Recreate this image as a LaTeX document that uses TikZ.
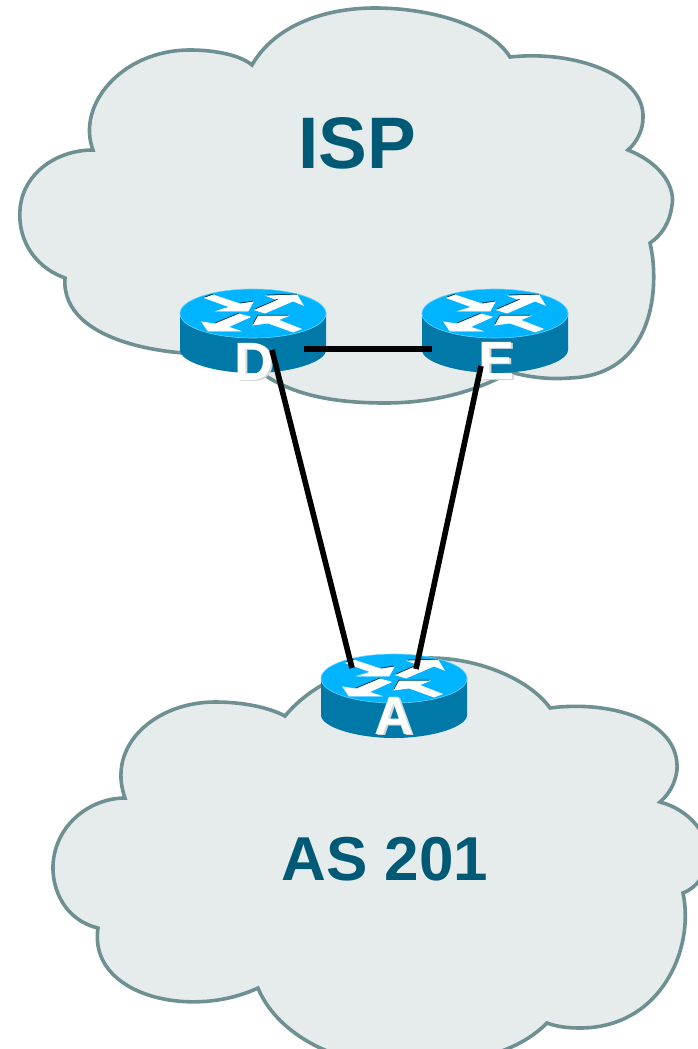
\documentclass[tikz,border=0pt]{standalone}
\usepackage{fontspec}
\setmainfont{Liberation Sans}
\definecolor{cloudfill}{HTML}{E6ECEC}
\definecolor{clouddraw}{HTML}{6F9093}
\definecolor{routertop}{HTML}{00B4FF}
\definecolor{routerside}{HTML}{0078A8}
\definecolor{titleblue}{HTML}{005A75}
\definecolor{lettershade}{HTML}{D4D8D8}
\tikzset{
  cloud line/.style={draw=clouddraw,fill=cloudfill,line width=3.6pt},
  link/.style={line width=5.6pt,black},
  title/.style={text=titleblue,font=\bfseries,inner sep=0pt},
  letter/.style={text=white,font=\fontsize{54}{54}\selectfont\bfseries,inner sep=0pt},
  letter shade/.style={letter,text=lettershade},
  arrow white/.style={fill=white,draw=white,line width=.8pt},
  pics/router/.style={code={
    \path[fill=routerside] (-73,0) -- (-73,38) .. controls (-73,50) and (-38,61) .. (0,61)
      .. controls (38,61) and (73,50) .. (73,38) -- (73,0) -- cycle;
    \path[draw=routertop!60!white,line width=.6pt,fill=routertop] (0,1.5) ellipse [x radius=73,y radius=24.5];
    \path[arrow white] (-48,-14) -- (-40,-17) -- (-13,-8) -- (0,-10) -- (-5,-1) -- (-36,-1) -- (-23,-5) -- cycle;
    \path[arrow white] (2,-2) -- (25,-12) -- (14,-16) -- (44,-17) -- (50,-7) -- (40,-11) -- (12,1) -- cycle;
    \path[arrow white] (-51,10) -- (-38,12) -- (-14,2) -- (-3,5) -- (-25,15) -- (-13,19) -- (-45,19) -- cycle;
    \path[arrow white] (0,13) -- (5,4) -- (35,4) -- (25,8) -- (48,17) -- (40,20) -- (15,11) -- cycle;
    \draw[black,line width=.5pt] (-48,-15) -- (-40,-18) (-13,-9) -- (0,-11) (2,-3) -- (25,-13) (14,-17) -- (44,-18)
      (-38,11) -- (-14,1) (0,12) -- (5,3) -- (35,3);
  }}
}
\begin{document}
\begin{tikzpicture}[x=1pt,y=-1pt]
  \useasboundingbox (0,0) rectangle (697,1049);
  % ISP cloud
  \draw[cloud line] (93,150) .. controls (76,105) and (122,50) .. (190,50)
    .. controls (215,50) and (240,55) .. (252,65)
    .. controls (275,25) and (325,8) .. (375,8)
    .. controls (430,8) and (490,25) .. (510,57)
    .. controls (575,50) and (645,75) .. (643,118)
    .. controls (643,130) and (637,142) .. (628,150)
    .. controls (665,165) and (675,190) .. (672,205)
    .. controls (670,222) and (662,235) .. (650,243)
    .. controls (660,285) and (655,375) .. (570,378)
    .. controls (545,380) and (525,376) .. (510,372)
    .. controls (470,395) and (425,403) .. (385,403)
    .. controls (320,403) and (270,390) .. (240,352)
    .. controls (180,360) and (60,345) .. (65,278)
    .. controls (30,265) and (18,235) .. (20,210)
    .. controls (22,175) and (55,150) .. (93,150) -- cycle;
  % AS 201 cloud
  \draw[cloud line] (125,798) .. controls (106,745) and (156,702) .. (215,702)
    .. controls (245,702) and (270,708) .. (285,716)
    .. controls (315,680) and (365,660) .. (430,658)
    .. controls (480,658) and (530,680) .. (550,708)
    .. controls (610,700) and (680,720) .. (677,770)
    .. controls (675,785) and (668,795) .. (660,802)
    .. controls (690,810) and (710,835) .. (708,860)
    .. controls (706,875) and (696,888) .. (683,893)
    .. controls (695,950) and (660,1028) .. (580,1028)
    .. controls (565,1028) and (555,1026) .. (547,1023)
    .. controls (510,1060) and (450,1065) .. (400,1065)
    .. controls (330,1065) and (275,1030) .. (258,988)
    .. controls (190,1020) and (88,995) .. (98,928)
    .. controls (65,920) and (52,890) .. (53,865)
    .. controls (55,825) and (90,798) .. (125,798) -- cycle;
  \node[title,font=\fontsize{73}{73}\selectfont\bfseries] (isp) at (357,143) {ISP};
  \node[title,font=\fontsize{62}{62}\selectfont\bfseries] (as201) at (385,859) {AS 201};
  \pic at (253,312) {router};
  \pic at (495,312) {router};
  \pic at (394,677) {router};
  \node[letter shade] (dshade) at (256,363) {D};
  \node[letter] (d) at (254,362) {D};
  \node[letter shade] (eshade) at (499,362) {E};
  \node[letter] (e) at (497,361) {E};
  \node[letter shade] (ashade) at (396,717) {A};
  \node[letter] (a) at (394,716) {A};
  \coordinate (dright) at (304,349);
  \coordinate (eleft) at (432,349);
  \coordinate (dlow) at (272,350);
  \coordinate (elow) at (481,366);
  \coordinate (aleft) at (352,668);
  \coordinate (aright) at (416,669);
  \draw[link] (dright) -- (eleft);
  \draw[link] (dlow) -- (aleft);
  \draw[link] (elow) -- (aright);
\end{tikzpicture}
\end{document}
